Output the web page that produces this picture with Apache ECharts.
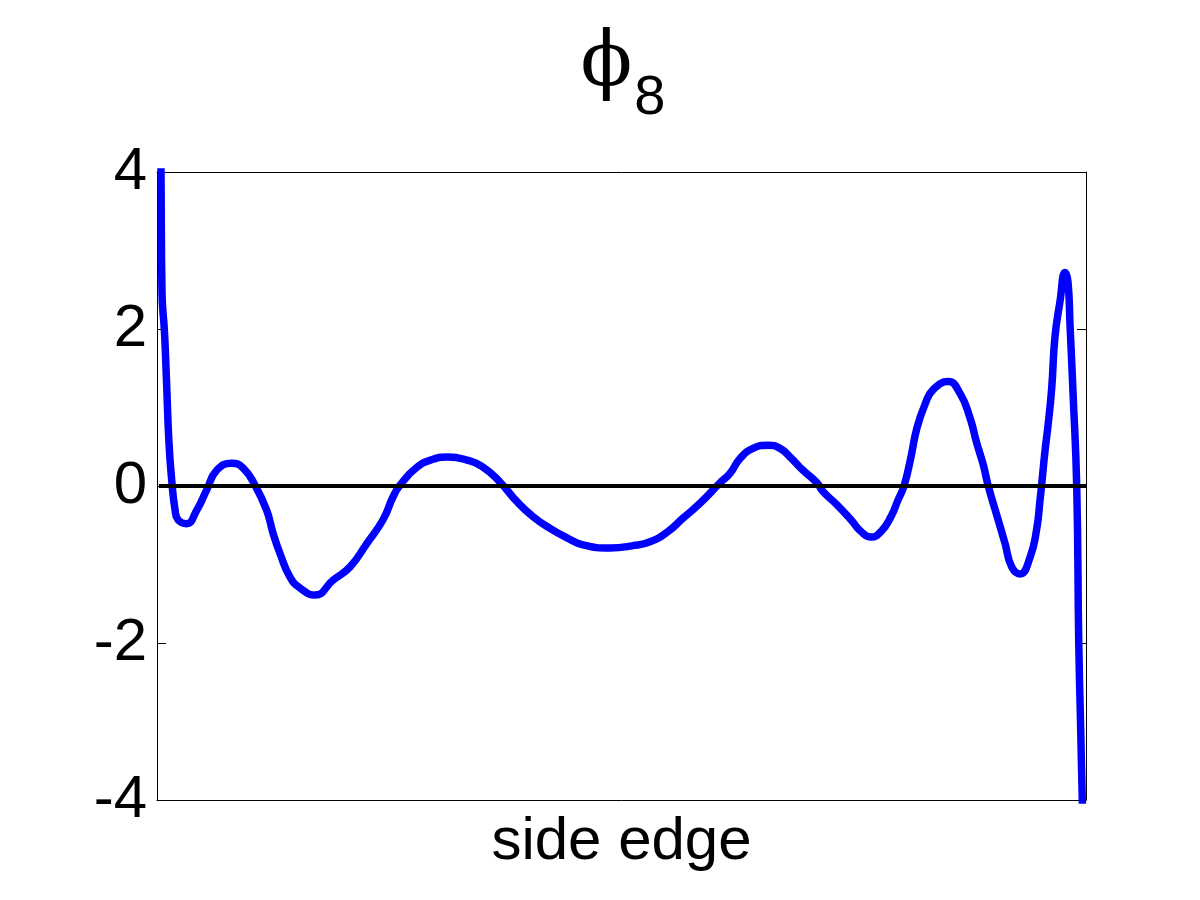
<!DOCTYPE html>
<html>
<head>
<meta charset="utf-8">
<script src="https://cdn.jsdelivr.net/npm/echarts@6/dist/echarts.min.js"></script>
<style>html,body{margin:0;padding:0;background:#fff}#c{width:1200px;height:900px}</style>
</head>
<body>
<div id="c"></div>
<script>
// position along the side edge (0..1) and mode value
const edgePos = [0.0038,0.0043,0.0054,0.0081,0.0102,0.0129,0.0161,0.0194,0.0226,0.0320,0.0427,0.0535,0.0643,0.0804,0.0926,0.1055,0.1181,0.1249,0.1324,0.1432,0.1539,0.1701,0.1895,0.2078,0.2260,0.2433,0.2540,0.2616,0.2799,0.2971,0.3132,0.3337,0.3509,0.3692,0.3875,0.4047,0.4230,0.4413,0.4586,0.4876,0.5124,0.5307,0.5490,0.5662,0.5845,0.6060,0.6168,0.6276,0.6415,0.6577,0.6706,0.6814,0.6954,0.7105,0.7169,0.7320,0.7470,0.7578,0.7686,0.7793,0.7901,0.7976,0.8041,0.8116,0.8178,0.8267,0.8356,0.8518,0.8644,0.8751,0.8823,0.8894,0.8948,0.9039,0.9128,0.9200,0.9290,0.9397,0.9469,0.9505,0.9521,0.9559,0.9594,0.9631,0.9666,0.9720,0.9774,0.9806,0.9828,0.9860,0.9900,0.9922,0.9941,0.9960,0.9978];
const phiValues = [4.6,4.0,2.46,1.95,1.35,0.55,0.04,-0.30,-0.43,-0.48,-0.31,-0.05,0.20,0.29,0.23,0.01,-0.31,-0.60,-0.86,-1.16,-1.30,-1.39,-1.20,-1.03,-0.73,-0.43,-0.14,0.01,0.24,0.34,0.37,0.33,0.24,0.05,-0.20,-0.39,-0.54,-0.66,-0.75,-0.79,-0.76,-0.71,-0.59,-0.41,-0.22,0.04,0.16,0.35,0.48,0.52,0.48,0.37,0.20,0.04,-0.07,-0.24,-0.43,-0.58,-0.65,-0.58,-0.39,-0.18,0.00,0.37,0.73,1.04,1.23,1.33,1.18,0.87,0.55,0.27,0.00,-0.37,-0.73,-1.03,-1.12,-0.91,-0.55,-0.18,0.00,0.45,0.80,1.25,1.90,2.35,2.72,2.60,2.05,1.20,0.00,-2.00,-3.00,-4.00,-4.80];
const yTicks = [-4, -2, 0, 2, 4];
const titleMain = 'ϕ';
const titleSub = '8';
const xLabel = 'side edge';

const seriesData = edgePos.map((x, i) => [x, phiValues[i]]);
const chart = echarts.init(document.getElementById('c'), null, {renderer: 'canvas'});
const font = 'Liberation Sans, Arial, Helvetica, sans-serif';
const axLine = {show: true, onZero: false, lineStyle: {color: '#000', width: 1}};
chart.setOption({
  animation: false,
  backgroundColor: '#fff',
  title: {
    text: '{a|' + titleMain + '}{b|' + titleSub + '}',
    left: 618, textAlign: 'center', top: 22,
    textStyle: {
      fontWeight: 'normal',
      rich: {
        a: {fontFamily: 'DejaVu Serif, Liberation Serif, serif', fontWeight: 'normal', fontSize: 76, color: '#000', lineHeight: 100, verticalAlign: 'top'},
        b: {fontFamily: font, fontWeight: 'normal', fontSize: 56, color: '#000', lineHeight: 60, verticalAlign: 'bottom', padding: [0, 0, 0, 2]}
      }
    }
  },
  grid: {left: 157, right: 114, top: 172, bottom: 100},
  xAxis: [{
    type: 'value', min: 0, max: 1, position: 'bottom',
    axisLine: axLine, axisTick: {show: false}, axisLabel: {show: false}, splitLine: {show: false},
    name: xLabel, nameLocation: 'middle', nameGap: 12,
    nameTextStyle: {fontFamily: font, fontSize: 60, color: '#000', verticalAlign: 'top'}
  }, {
    type: 'value', min: 0, max: 1, position: 'top',
    axisLine: axLine, axisTick: {show: false}, axisLabel: {show: false}, splitLine: {show: false}
  }],
  yAxis: [{
    type: 'value', min: -4, max: 4, interval: 2, position: 'left',
    axisLine: axLine,
    axisTick: {show: true, inside: true, length: 9, lineStyle: {color: '#000', width: 1}},
    axisLabel: {fontFamily: font, fontSize: 60, color: '#000', margin: 10,
      formatter: v => yTicks.includes(v) ? String(v) : ''},
    splitLine: {show: false}
  }, {
    type: 'value', min: -4, max: 4, interval: 2, position: 'right',
    axisLine: axLine,
    axisTick: {show: true, inside: true, length: 9, lineStyle: {color: '#000', width: 1}},
    axisLabel: {show: false}, splitLine: {show: false}
  }],
  series: [{
    type: 'line', data: seriesData, showSymbol: false, clip: true,
    smooth: 0.5,
    lineStyle: {color: '#0000ff', width: 7.5}, z: 2
  }, {
    type: 'line', data: [[0.002, 0], [1, 0]], showSymbol: false,
    lineStyle: {color: '#000', width: 4}, z: 3
  }]
});
</script>
</body>
</html>
